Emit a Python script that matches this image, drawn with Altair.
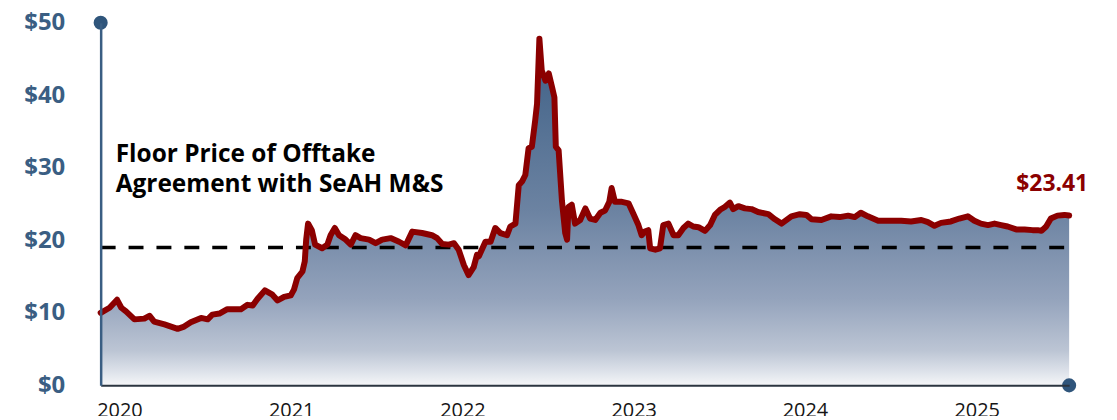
import altair as alt
import pandas as pd

dates = [
    "2019-11-22", "2019-12-11", "2019-12-27", "2020-01-05", "2020-01-15", "2020-02-02",
    "2020-02-23", "2020-03-05", "2020-03-15", "2020-04-06", "2020-04-20", "2020-05-04",
    "2020-05-18", "2020-06-01", "2020-06-23", "2020-07-07", "2020-07-17", "2020-08-01",
    "2020-08-18", "2020-09-16", "2020-09-30", "2020-10-11", "2020-10-21", "2020-11-06",
    "2020-11-22", "2020-12-03", "2020-12-17", "2020-12-31", "2021-01-07", "2021-01-14",
    "2021-01-25", "2021-01-30", "2021-02-02", "2021-02-06", "2021-02-14", "2021-02-21",
    "2021-03-08", "2021-03-19", "2021-03-26", "2021-04-04", "2021-04-13", "2021-04-27",
    "2021-05-08", "2021-05-18", "2021-05-29", "2021-06-16", "2021-06-30", "2021-07-14",
    "2021-08-01", "2021-08-19", "2021-09-02", "2021-09-16", "2021-10-07", "2021-10-28",
    "2021-11-08", "2021-11-19", "2021-12-03", "2021-12-14", "2021-12-24", "2022-01-04",
    "2022-01-14", "2022-01-25", "2022-02-01", "2022-02-05", "2022-02-19", "2022-03-02",
    "2022-03-12", "2022-03-23", "2022-04-06", "2022-04-13", "2022-04-24", "2022-05-01",
    "2022-05-08", "2022-05-15", "2022-05-22", "2022-05-29", "2022-06-05", "2022-06-09",
    "2022-06-14", "2022-06-19", "2022-06-27", "2022-07-04", "2022-07-11", "2022-07-16",
    "2022-07-19", "2022-07-25", "2022-08-01", "2022-08-08", "2022-08-12", "2022-08-15",
    "2022-08-22", "2022-08-29", "2022-09-09", "2022-09-20", "2022-09-30", "2022-10-11",
    "2022-10-22", "2022-11-01", "2022-11-10", "2022-11-15", "2022-11-22", "2022-12-07",
    "2022-12-21", "2022-12-31", "2023-01-11", "2023-01-18", "2023-01-25", "2023-02-01",
    "2023-02-05", "2023-02-16", "2023-02-26", "2023-03-05", "2023-03-16", "2023-03-27",
    "2023-04-06", "2023-04-17", "2023-04-27", "2023-05-08", "2023-05-19", "2023-06-02",
    "2023-06-13", "2023-06-23", "2023-07-04", "2023-07-14", "2023-07-25", "2023-08-01",
    "2023-08-12", "2023-08-26", "2023-09-09", "2023-09-23", "2023-10-15", "2023-10-29",
    "2023-11-12", "2023-12-03", "2023-12-21", "2024-01-04", "2024-01-15", "2024-02-05",
    "2024-02-26", "2024-03-15", "2024-04-02", "2024-04-16", "2024-04-29", "2024-05-14",
    "2024-06-05", "2024-06-26", "2024-07-24", "2024-08-14", "2024-09-05", "2024-09-19",
    "2024-10-03", "2024-10-17", "2024-11-07", "2024-11-25", "2024-12-13", "2024-12-27",
    "2025-01-10", "2025-01-25", "2025-02-08", "2025-02-22", "2025-03-08", "2025-03-26",
    "2025-04-13", "2025-04-30", "2025-05-11", "2025-05-19", "2025-05-29", "2025-06-08",
    "2025-06-22", "2025-07-07", "2025-07-17",
]

prices = [
    10.0, 10.7, 11.8, 10.7, 10.2, 9.1,
    9.2, 9.6, 8.8, 8.4, 8.1, 7.8,
    8.1, 8.7, 9.3, 9.1, 9.75, 9.9,
    10.5, 10.5, 11.1, 11.0, 11.9, 13.1,
    12.5, 11.7, 12.2, 12.4, 13.2, 14.8,
    15.7, 17.1, 20.1, 22.3, 21.4, 19.4,
    18.9, 19.4, 20.7, 21.7, 20.7, 20.1,
    19.4, 20.7, 20.3, 20.1, 19.6, 20.1,
    20.3, 19.8, 19.3, 21.2, 21.0, 20.7,
    20.3, 19.5, 19.4, 19.6, 18.7, 16.6,
    15.2, 16.3, 18.0, 17.8, 19.8, 19.8,
    21.7, 21.0, 20.7, 21.9, 22.3, 27.6,
    28.1, 29.0, 32.7, 32.9, 36.5, 38.8,
    47.8, 43.4, 42.0, 43.0, 41.1, 39.7,
    32.9, 32.4, 25.5, 21.0, 20.1, 24.6,
    24.9, 22.3, 22.8, 24.4, 23.0, 22.8,
    23.8, 24.1, 25.3, 27.2, 25.3, 25.3,
    25.1, 23.7, 22.1, 20.7, 21.2, 21.4,
    18.9, 18.7, 18.9, 22.1, 22.3, 20.7,
    20.7, 21.7, 22.3, 21.9, 21.8, 21.3,
    22.1, 23.5, 24.2, 24.6, 25.2, 24.3,
    24.7, 24.4, 24.3, 23.9, 23.6, 22.9,
    22.3, 23.3, 23.6, 23.5, 22.9, 22.8,
    23.3, 23.2, 23.4, 23.2, 23.8, 23.3,
    22.7, 22.7, 22.7, 22.6, 22.8, 22.5,
    22.0, 22.4, 22.6, 23.0, 23.3, 22.7,
    22.3, 22.1, 22.3, 22.1, 21.9, 21.5,
    21.5, 21.4, 21.4, 21.3, 21.9, 23.0,
    23.4, 23.5, 23.41,
]

floor_price = 19.0
last_price_label = "$23.41"
annotation_lines = ["Floor Price of Offtake", "Agreement with SeAH M&S"]
year_ticks = [2020, 2021, 2022, 2023, 2024, 2025]
y_ticks = [0, 10, 20, 30, 40, 50]

FONT = "Open Sans"
RED = "#8b0000"
AXIS_BLUE = "#3a5e83"
DOT_BLUE = "#2f557b"

df = pd.DataFrame({"date": dates, "price": prices})
start_date, end_date = dates[0], dates[-1]

x_scale = alt.Scale(domain=[start_date, end_date], nice=False)
y_scale = alt.Scale(domain=[0, 50], nice=False)

x_axis = alt.Axis(
    values=[alt.DateTime(year=y, month=1, date=1) for y in year_ticks],
    format="%Y", title=None, ticks=False, grid=False, labelFont=FONT,
    labelFontSize=20, labelColor="#151515", labelPadding=15,
    domainColor="#2b3540", domainWidth=2, zindex=1, labelFlush=False,
    labelOverlap=False,
)
y_axis = alt.Axis(
    values=y_ticks, labelExpr="'$' + datum.value", title=None, ticks=False,
    grid=False, labelFont=FONT, labelFontSize=24, labelFontWeight="bold",
    labelColor=AXIS_BLUE, labelPadding=36, domainColor=AXIS_BLUE,
    domainWidth=2.5, zindex=1,
)

X = alt.X("date:T", scale=x_scale, axis=x_axis)
Y = alt.Y("price:Q", scale=y_scale, axis=y_axis)

area = alt.Chart(df).mark_area(
    color=alt.Gradient(
        gradient="linear",
        stops=[
            alt.GradientStop(color="#3d5f85", offset=0),
            alt.GradientStop(color="#6c83a2", offset=0.5),
            alt.GradientStop(color="#94a3bc", offset=0.75),
            alt.GradientStop(color="#bcc5d4", offset=0.9),
            alt.GradientStop(color="#dde2ea", offset=0.96),
            alt.GradientStop(color="#f5f6f8", offset=1),
        ],
        x1=1, x2=1, y1=0, y2=1,
    ),
    interpolate="linear",
).encode(x=X, y=Y)

floor_df = pd.DataFrame({"start": [start_date], "end": [end_date], "price": [floor_price]})
floor = alt.Chart(floor_df).mark_rule(
    color="black", strokeWidth=3.5, strokeDash=[15, 13]
).encode(x=alt.X("start:T", scale=x_scale), x2="end:T", y=alt.Y("price:Q", scale=y_scale))

line = alt.Chart(df).mark_line(
    color=RED, strokeWidth=6, strokeJoin="round", strokeCap="round"
).encode(x=X, y=Y)

last_df = df.tail(1)
last_label = alt.Chart(last_df).mark_text(
    text=last_price_label, font=FONT, fontSize=23, fontWeight="bold",
    color=RED, align="center", baseline="alphabetic", dx=-17, dy=-25,
).encode(x=alt.X("date:T", scale=x_scale), y=alt.Y("price:Q", scale=y_scale))

ann_df = pd.DataFrame({"date": ["2019-12-24"], "price": [30.8]})
annotation = alt.Chart(ann_df).mark_text(
    text=annotation_lines, font=FONT, fontSize=24.5, fontWeight="bold",
    color="black", align="left", baseline="alphabetic", lineHeight=30,
).encode(x=alt.X("date:T", scale=x_scale), y=alt.Y("price:Q", scale=y_scale))

dots_df = pd.DataFrame({"date": [start_date, end_date], "price": [50, 0]})
dots = alt.Chart(dots_df).mark_circle(size=200, color=DOT_BLUE, opacity=1).encode(
    x=alt.X("date:T", scale=x_scale), y=alt.Y("price:Q", scale=y_scale)
)

chart = alt.layer(area, floor, line, annotation, last_label, dots).properties(
    width=972, height=364,
    autosize=alt.AutoSizeParams(type="none"),
    padding={"left": 93, "top": 14, "right": 40, "bottom": 30},
).configure_view(stroke=None)

chart.save("out.html", embed_options={"renderer": "svg", "actions": False})
